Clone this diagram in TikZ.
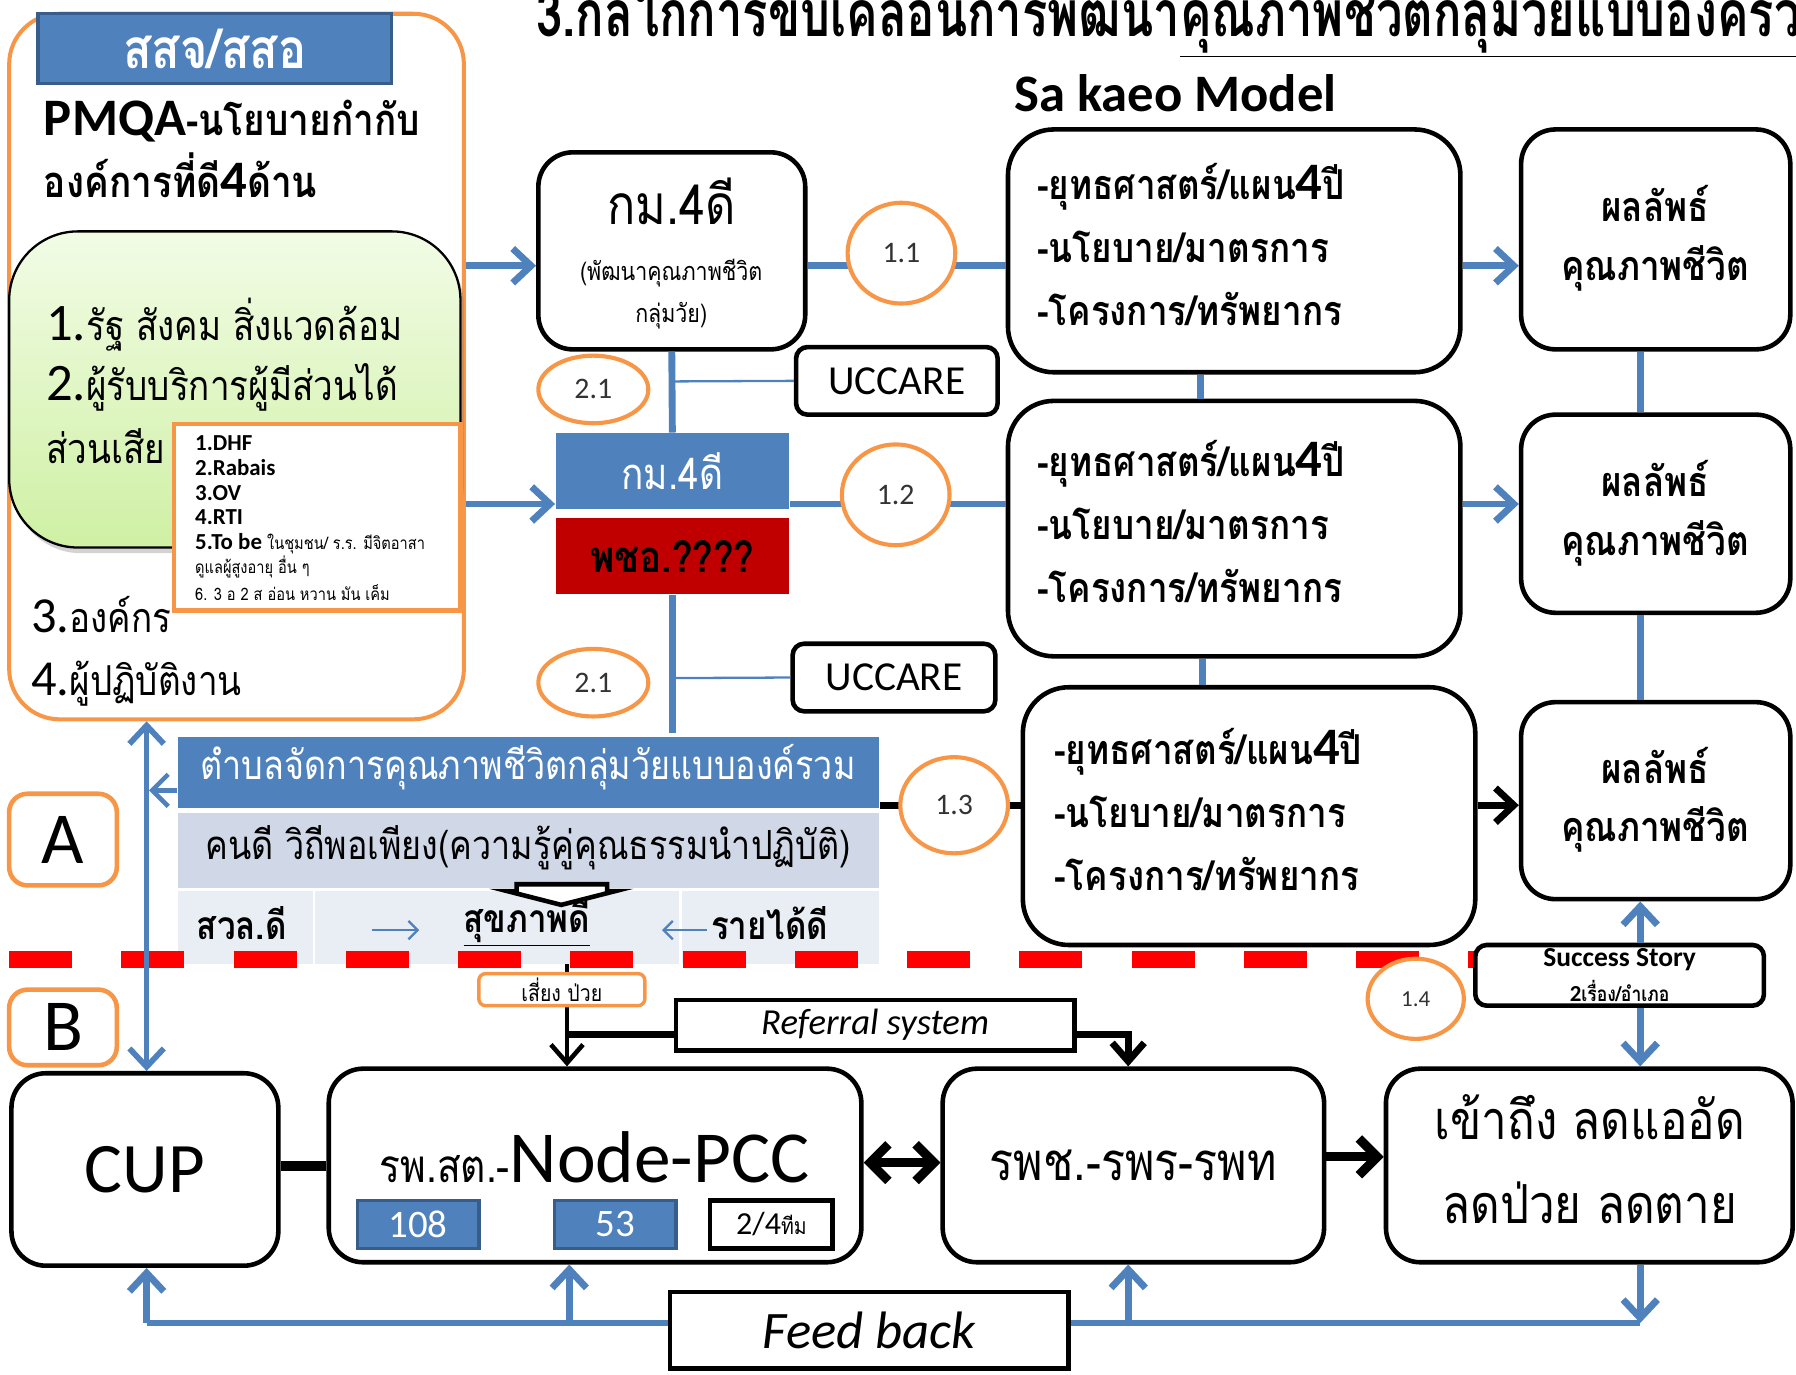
\documentclass[tikz,border=0pt]{standalone}
\usepackage{fontspec}
\setmainfont{Carlito}
\newfontfamily\thf[Script=Thai,FakeStretch=0.85]{Loma}
\newfontfamily\thtitle[Script=Thai,FakeStretch=0.735]{Loma}
\usetikzlibrary{arrows.meta,shapes.geometric,shadows}
\definecolor{pblue}{HTML}{4F81BD}
\definecolor{pbluedark}{HTML}{385D8A}
\definecolor{porange}{HTML}{F79646}
\definecolor{pred}{HTML}{C00000}
\definecolor{greenA}{HTML}{F2FCE6}
\definecolor{greenB}{HTML}{CFF0A4}
\definecolor{bandgray}{HTML}{D0D8E8}
\definecolor{bandlight}{HTML}{E9EDF4}
\definecolor{dashred}{HTML}{FF0000}
\newcommand\fsz[1]{\fontsize{#1}{#1}\selectfont}
\begin{document}
\begin{tikzpicture}[x=0.5pt,y=-0.5pt,
 rbox/.style={draw=black,line width=2pt,rounded corners=15pt,fill=white,inner sep=0pt},
 bline/.style={draw=pblue,line width=3pt},
 barrow/.style={bline,-{Straight Barb[length=8pt,width=15pt]}},
 karrow/.style={draw=black,line width=3pt,-{Straight Barb[length=8pt,width=15pt]}},
 circ/.style={ellipse,draw=porange,line width=1.8pt,fill=white,inner sep=0pt,font=\fsz{13},text=black!80},
 txt/.style={inner sep=0pt},
 obox/.style={draw=porange,line width=2pt,rounded corners=8pt,fill=white,inner sep=0pt},
]
\useasboundingbox (0,0) rectangle (1568,1200);
\clip (0,0) rectangle (1568,1200);
\coordinate (y232) at (0,232);
\coordinate (y440) at (0,440);

% title
\node[txt,anchor=base west,font=\thtitle\bfseries\fsz{28}] (title) at (468,32) {3.กลไกการขับเคลื่อนการพัฒนา\underline{คุณภาพชีวิตกลุ่มวัยแบบองค์รวม}};
\node[txt,anchor=base west,font=\bfseries\fsz{23}] (sak) at (885,97) {Sa kaeo Model};

% left block
\node[draw=porange,line width=1.75pt,rounded corners=22pt,minimum width=198.5pt,minimum height=308pt,inner sep=0pt] (org) at (206.5,320) {};
\node[fill=pblue,draw=pbluedark,line width=1.5pt,minimum width=154.5pt,minimum height=30.5pt,inner sep=0pt,text=white,font=\thf\bfseries\fsz{24}] (ssj) at (187.5,42.5) {สสจ/สสอ};
\node[txt,anchor=base west] (pmqa) at (38,118) {{\bfseries\fsz{23}PMQA}{\thf\bfseries\fsz{19}-นโยบายกำกับ}};
\node[txt,anchor=base west,font=\thf\bfseries\fsz{19}] (org4) at (38,172) {องค์การที่ดี{\rmfamily\bfseries\fsz{23}4}ด้าน};
\node[draw=black,line width=1pt,rounded corners=30pt,top color=greenA,bottom color=greenB,minimum width=197pt,minimum height=138pt,inner sep=0pt,drop shadow={opacity=0.35,shadow xshift=1.5pt,shadow yshift=-2.5pt}] (grn) at (205,340) {};
\node[txt,anchor=base west,font=\thf\fsz{18}] (g1) at (40,297) {{\rmfamily\fsz{23}1.}รัฐ สังคม สิ่งแวดล้อม};
\node[txt,anchor=base west,font=\thf\fsz{18}] (g2) at (40,350) {{\rmfamily\fsz{23}2.}ผู้รับบริการผู้มีส่วนได้};
\node[txt,anchor=base west,font=\thf\fsz{18}] (g3) at (40,405) {ส่วนเสีย};
\node[draw=porange,line width=2pt,fill=white,minimum width=125pt,minimum height=81.5pt,inner sep=0pt] (lst) at (277,451.5) {};
\node[txt,anchor=base west,font=\bfseries\fsz{10}] (l1) at (170,393) {1.DHF};
\node[txt,anchor=base west,font=\bfseries\fsz{10}] (l2) at (170,415) {2.Rabais};
\node[txt,anchor=base west,font=\bfseries\fsz{10}] (l3) at (170,437) {3.OV};
\node[txt,anchor=base west,font=\bfseries\fsz{10}] (l4) at (170,458) {4.RTI};
\node[txt,anchor=base west] (l5) at (170,480) {{\bfseries\fsz{10}5.To be} {\thf\fsz{7.5}ในชุมชน/ ร.ร. มีจิตอาสา}};
\node[txt,anchor=base west,font=\thf\fsz{7.5}] (l5b) at (170,501) {ดูแลผู้สูงอายุ อื่น ๆ};
\node[txt,anchor=base west,font=\thf\fsz{7.5}] (l6) at (170,524) {6. 3 อ 2 ส อ่อน หวาน มัน เค็ม};
\node[txt,anchor=base west,font=\thf\fsz{18}] (o3) at (27,552) {{\rmfamily\fsz{22}3.}องค์กร};
\node[txt,anchor=base west,font=\thf\fsz{18}] (o4) at (27,607) {{\rmfamily\fsz{22}4.}ผู้ปฏิบัติงาน};

% column 2
\node[rbox,minimum width=116.5pt,minimum height=86pt] (km1) at (586.5,219) {};
\node[txt,font=\thf\fsz{24}] (km1a) at (586,176) {กม.4ดี};
\node[txt,font=\thf\fsz{11}] (km1b) at (586,238) {(พัฒนาคุณภาพชีวิต};
\node[txt,font=\thf\fsz{11}] (km1c) at (586,276) {กลุ่มวัย)};
\draw[barrow] (org.east |- y232) -- (km1.west |- y232);

\node[fill=pblue,minimum width=102pt,minimum height=33pt,inner sep=0pt,text=white,font=\thf\fsz{19}] (kmb) at (587,411) {กม.4ดี};
\node[fill=pred,minimum width=102pt,minimum height=33.5pt,inner sep=0pt,font=\thf\bfseries\fsz{19}] (pch) at (587,485.5) {พชอ.????};
\draw[barrow] (org.east |- y440) -- (kmb.west |- y440);

\node[rbox,rounded corners=5pt,minimum width=88pt,minimum height=29.5pt,font=\fsz{18}] (uc1) at (783,332.5) {UCCARE};
\node[rbox,rounded corners=5pt,minimum width=88.5pt,minimum height=29.5pt,font=\fsz{18}] (uc2) at (780.5,591.5) {UCCARE};
\draw[bline] (km1.south) -- (kmb.north);
\draw[draw=pblue,line width=1pt] (587,333) -- (uc1.west);
\draw[bline] (pch.south) -- (587,640);
\draw[draw=pblue,line width=1pt] (587,592) -- (uc2.west);
\node[circ,minimum width=48pt,minimum height=29.5pt] (c21a) at (518,340) {2.1};
\node[circ,minimum width=48pt,minimum height=29.5pt] (c21b) at (518,596) {2.1};

% strategy boxes
\node[rbox,rounded corners=20pt,minimum width=197.5pt,minimum height=106pt] (s1) at (1077.5,219) {};
\node[rbox,rounded corners=20pt,minimum width=197.5pt,minimum height=111.5pt] (s2) at (1077.5,461.5) {};
\node[rbox,rounded corners=20pt,minimum width=197.5pt,minimum height=112.5pt] (s3) at (1090.5,712.5) {};
\foreach \n/\x/\y in {s1/905/174,s2/905/416,s3/920/667}{
  \node[txt,anchor=base west,font=\thf\bfseries\fsz{18}] (\n a) at (\x,\y) {-ยุทธศาสตร์/แผน{\rmfamily\bfseries\fsz{23}4}ปี};
  \node[txt,anchor=base west,font=\thf\bfseries\fsz{18}] (\n b) at (\x,\y+55) {-นโยบาย/มาตรการ};
  \node[txt,anchor=base west,font=\thf\bfseries\fsz{18}] (\n c) at (\x,\y+110) {-โครงการ/ทรัพยากร};
}
\node[rbox,minimum width=117.5pt,minimum height=96pt] (r1) at (1445.5,209) {};
\node[rbox,minimum width=117.5pt,minimum height=86.5pt] (r2) at (1445.5,448.5) {};
\node[rbox,minimum width=117.5pt,minimum height=86pt] (r3) at (1445.5,699) {};
\foreach \n/\y in {r1/178,r2/418,r3/668}{
  \node[txt,font=\thf\bfseries\fsz{18}] (\n a) at (1445,\y) {ผลลัพธ์};
  \node[txt,font=\thf\bfseries\fsz{18}] (\n b) at (1445,\y+56) {คุณภาพชีวิต};
}
\draw[bline] (km1.east |- y232) -- (s1.west |- y232);
\draw[bline] (kmb.east |- y440) -- (s2.west |- y440);
\draw[draw=black,line width=3pt] (768,703) -- (s3.west |- 0,703);
\node[circ,minimum width=47pt,minimum height=44pt] (c11) at (787,221) {1.1};
\node[circ,minimum width=47pt,minimum height=44pt] (c12) at (782,432) {1.2};
\node[circ,minimum width=47pt,minimum height=42pt] (c13) at (833,703) {1.3};
\draw[barrow] (s1.east |- y232) -- (r1.west |- y232);
\draw[barrow] (s2.east |- y440) -- (r2.west |- y440);
\draw[karrow] (s3.east |- 0,703) -- (r3.west |- 0,703);
\draw[bline] (s1.south -| 1048,0) -- (s2.north -| 1048,0);
\draw[bline] (s2.south -| 1050,0) -- (s3.north -| 1050,0);
\draw[bline] (r1.south -| 1432,0) -- (r2.north -| 1432,0);
\draw[bline] (r2.south -| 1432,0) -- (r3.north -| 1432,0);

% bands
\node[fill=pblue,minimum width=306pt,minimum height=31pt,inner sep=0pt] (band1) at (461,674) {};
\node[txt,text=white,font=\thf\fsz{17.5}] (band1t) at (461,670) {ตำบลจัดการคุณภาพชีวิตกลุ่มวัยแบบองค์รวม};
\node[fill=bandgray,minimum width=306pt,minimum height=32.5pt,inner sep=0pt] (band2) at (461,742.5) {};
\node[txt,font=\thf\fsz{17.5}] (band2t) at (461,740) {คนดี วิถีพอเพียง(ความรู้คู่คุณธรรมนำปฏิบัติ)};
\node[fill=bandlight,minimum width=59pt,minimum height=32pt,inner sep=0pt] (cellA) at (214,810) {};
\node[fill=bandlight,minimum width=159pt,minimum height=32pt,inner sep=0pt] (cellB) at (434,810) {};
\node[fill=bandlight,minimum width=86pt,minimum height=32pt,inner sep=0pt] (cellC) at (681,810) {};
\node[txt,font=\thf\bfseries\fsz{17}] (t1) at (211,806) {สวล.ดี};
\node[txt,font=\thf\bfseries\fsz{17}] (t2) at (460,806) {\underline{สุขภาพดี}};
\node[txt,font=\thf\bfseries\fsz{17}] (t3) at (672,806) {รายได้ดี};
\coordinate (ar1a) at (325,812);
\coordinate (ar1b) at (366,812);
\coordinate (ar2a) at (617,812);
\coordinate (ar2b) at (578,812);
\draw[draw=pblue,line width=1pt,-{Straight Barb[length=4pt,width=8pt]}] (ar1a) -- (ar1b);
\draw[draw=pblue,line width=1pt,-{Straight Barb[length=4pt,width=8pt]}] (ar2a) -- (ar2b);
\draw[fill=white,draw=black,line width=2pt,line join=miter] (451,772) -- (530,772) -- (530,778) -- (537,778) -- (490,790) -- (443,778) -- (451,778) -- cycle;
\draw[draw=pblue,line width=2pt,-{Straight Barb[length=7pt,width=14pt]}] (band1.west |- 0,690) -- (130,690);

% A / B
\node[obox,minimum width=47pt,minimum height=40pt,font=\fsz{32}] (A) at (55,733) {A};
\node[obox,minimum width=47pt,minimum height=33pt,font=\fsz{32}] (B) at (55,897) {B};

% red dashed
\draw[draw=dashred,line width=7.5pt,dash pattern=on 27.5pt off 21.5pt] (8,838) -- (1290,838);

% bottom row
\node[rbox,minimum width=116.5pt,minimum height=84pt,font=\fsz{31}] (cup) at (126.5,1021) {CUP};
\node[rbox,minimum width=232.5pt,minimum height=84.5pt] (pcc) at (519.5,1017.5) {};
\node[txt,anchor=base] (pcct) at (519,1032) {{\thf\fsz{20}รพ.สต.-}{\fsz{32}Node-PCC}};
\node[fill=pblue,draw=pbluedark,line width=1.5pt,minimum width=53pt,minimum height=21pt,inner sep=0pt,text=white,font=\fsz{17}] (b108) at (365,1069) {108};
\node[fill=pblue,draw=pbluedark,line width=1.5pt,minimum width=53pt,minimum height=21pt,inner sep=0pt,text=white,font=\fsz{17}] (b53) at (537,1069) {53};
\node[fill=white,draw=black,line width=2pt,minimum width=53.5pt,minimum height=21pt,inner sep=0pt] (b24) at (673.5,1069) {{\fsz{14}2/4}{\thf\fsz{10}ทีม}};
\node[rbox,minimum width=166.5pt,minimum height=84.5pt,font=\thf\fsz{23}] (rph) at (989.5,1017.5) {รพช.-รพร-รพท};
\node[rbox,minimum width=177.5pt,minimum height=84.5pt] (last) at (1387.5,1017.5) {};
\node[txt,font=\thf\fsz{23.5}] (la) at (1388,975) {เข้าถึง ลดแออัด};
\node[txt,font=\thf\fsz{23.5}] (lb) at (1388,1050) {ลดป่วย ลดตาย};
\draw[draw=black,line width=4pt] (cup.east |- 0,1018) -- (pcc.west |- 0,1018);
\draw[draw=black,line width=4pt,{Straight Barb[length=8pt,width=16pt]}-{Straight Barb[length=8pt,width=16pt]}] (pcc.east |- 0,1015) -- (rph.west |- 0,1015);
\draw[draw=black,line width=4pt,-{Straight Barb[length=8pt,width=16pt]}] (rph.east |- 0,1010) -- (last.west |- 0,1010);

% referral
\node[draw=black,line width=2pt,fill=white,minimum width=174pt,minimum height=22pt,inner sep=0pt,font=\itshape\fsz{16}] (ref) at (764,895) {Referral system};
\draw[draw=black,line width=2pt,-{Straight Barb[length=8pt,width=14pt]}] (495,842) -- (pcc.north -| 495,0);
\draw[draw=black,line width=3pt] (495,903) -- (ref.west |- 0,903);
\draw[draw=black,line width=3pt,-{Straight Barb[length=8pt,width=14pt]},line join=miter] (ref.east |- 0,903) -- (985,903) -- (rph.north -| 985,0);
\node[obox,rounded corners=3pt,line width=1.5pt,minimum width=72.5pt,minimum height=14pt,font=\thf\fsz{10}] (risk) at (490.5,864) {เสี่ยง ป่วย};

% success story
\node[circ,minimum width=42pt,minimum height=35pt,font=\fsz{10}] (c14) at (1236,872) {1.4};
\node[rbox,rounded corners=5pt,minimum width=126pt,minimum height=26.5pt] (ss) at (1414,851.5) {};
\node[txt,font=\bfseries\fsz{12}] (ssa) at (1414,838) {Success Story};
\node[txt,font=\bfseries\fsz{10}] (ssb) at (1414,865) {2{\thf\fsz{9}เรื่อง/อำเภอ}};
\draw[barrow] (ss.north -| 1432,0) -- (r3.south -| 1432,0);
\draw[barrow] (ss.south -| 1432,0) -- (last.north -| 1432,0);

% left vertical
\draw[draw=pblue,line width=2.5pt,{Straight Barb[length=8pt,width=15pt]}-{Straight Barb[length=8pt,width=15pt]}] (org.south -| 128,0) -- (cup.north -| 128,0);

% feedback
\node[draw=black,line width=2pt,fill=white,minimum width=174pt,minimum height=33.5pt,inner sep=0pt,font=\itshape\fsz{23}] (fb) at (759,1161.5) {Feed back};
\draw[bline] (fb.west |- 0,1155) -- (128,1155);
\draw[bline] (fb.east |- 0,1155) -- (1432,1155);
\draw[barrow] (128,1155) -- (cup.south -| 128,0);
\draw[barrow] (497,1155) -- (pcc.south -| 497,0);
\draw[barrow] (985,1155) -- (rph.south -| 985,0);
\draw[barrow] (last.south -| 1432,0) -- (1432,1155);
\end{tikzpicture}
\end{document}
